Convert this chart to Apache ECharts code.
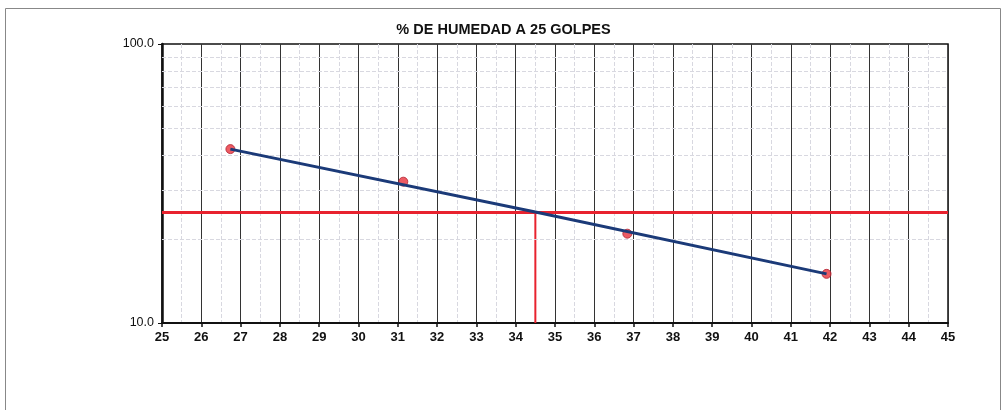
<!DOCTYPE html>
<html>
<head>
<meta charset="utf-8">
<script src="https://cdn.jsdelivr.net/npm/echarts@6/dist/echarts.min.js"></script>
<style>
html,body{margin:0;padding:0;background:#fff;}
#c{width:1007px;height:410px;}
</style>
</head>
<body>
<div id="c"></div>
<script>
// Data
const golpes = [26.74, 31.14, 36.84, 41.91];
const humedad = [42.0, 32.1, 20.9, 15.0];
const trendX = [26.74, 34.5, 41.91];
const trendY = [42.0, 25.0, 15.0];
const refY = 25;
const refX = 34.5;
const minorY = [20, 30, 40, 50, 60, 70, 80, 90];
const xMin = 25, xMax = 45, yMin = 10, yMax = 100;
const titleText = '% DE HUMEDAD A 25 GOLPES';

const chart = echarts.init(document.getElementById('c'), null, {renderer: 'canvas'});
const font = 'Liberation Sans, Arial, sans-serif';

const option = {
  backgroundColor: '#fff',
  animation: false,
  title: {
    text: titleText,
    left: 'center',
    top: 17,
    textStyle: {fontFamily: font, fontSize: 14.5, fontWeight: 'bold', color: '#111'}
  },
  graphic: [{
    type: 'rect',
    shape: {x: 5.5, y: 8.5, width: 995, height: 420},
    style: {fill: null, stroke: '#888', lineWidth: 1},
    silent: true, z: -1
  }],
  grid: {left: 162, right: 59, top: 44, bottom: 87, show: true, borderColor: '#111', borderWidth: 1.5},
  xAxis: {
    type: 'value', min: xMin, max: xMax, interval: 1,
    axisLine: {show: true, onZero: false, lineStyle: {color: '#111', width: 2}},
    axisTick: {show: true, length: 4, lineStyle: {color: '#111', width: 1.5}},
    axisLabel: {fontFamily: font, fontSize: 13, fontWeight: 'bold', color: '#111', margin: 8},
    splitLine: {show: true, lineStyle: {color: '#333', width: 1}},
    minorTick: {show: false, splitNumber: 2},
    minorSplitLine: {show: true, lineStyle: {color: '#d8d8e0', width: 1, type: 'dashed'}}
  },
  yAxis: {
    type: 'log', logBase: 10, min: yMin, max: yMax,
    axisLine: {show: true, onZero: false, lineStyle: {color: '#111', width: 2.5}},
    axisTick: {show: true, length: 4, lineStyle: {color: '#111'}},
    axisLabel: {fontFamily: font, fontSize: 12.5, color: '#111', margin: 8,
      formatter: v => Number(v).toFixed(1)},
    splitLine: {show: false}
  },
  series: [
    {
      type: 'line', data: [], silent: true, z: 1,
      markLine: {
        silent: true, symbol: 'none', label: {show: false},
        lineStyle: {color: '#d8d8e0', width: 1, type: 'dashed'},
        data: minorY.map(v => ({yAxis: v}))
      }
    },
    {
      type: 'line', data: [], silent: true, z: 3,
      markLine: {
        silent: true, symbol: 'none', label: {show: false},
        lineStyle: {color: '#e8222e', width: 3, type: 'solid'},
        data: [{yAxis: refY}]
      }
    },
    {
      type: 'line', silent: true, z: 3, symbol: 'none',
      lineStyle: {color: '#e8222e', width: 2},
      data: [[refX, refY], [refX, yMin]]
    },
    {
      type: 'scatter', silent: true, z: 4,
      symbol: 'circle', symbolSize: 9,
      itemStyle: {color: '#e8323c', borderColor: '#b02030', borderWidth: 1},
      data: golpes.map((x, i) => [x, humedad[i]])
    },
    {
      type: 'line', silent: true, z: 5, symbol: 'none',
      lineStyle: {color: '#1b3a78', width: 3},
      data: trendX.map((x, i) => [x, trendY[i]])
    }
  ]
};
chart.setOption(option);
</script>
</body>
</html>
